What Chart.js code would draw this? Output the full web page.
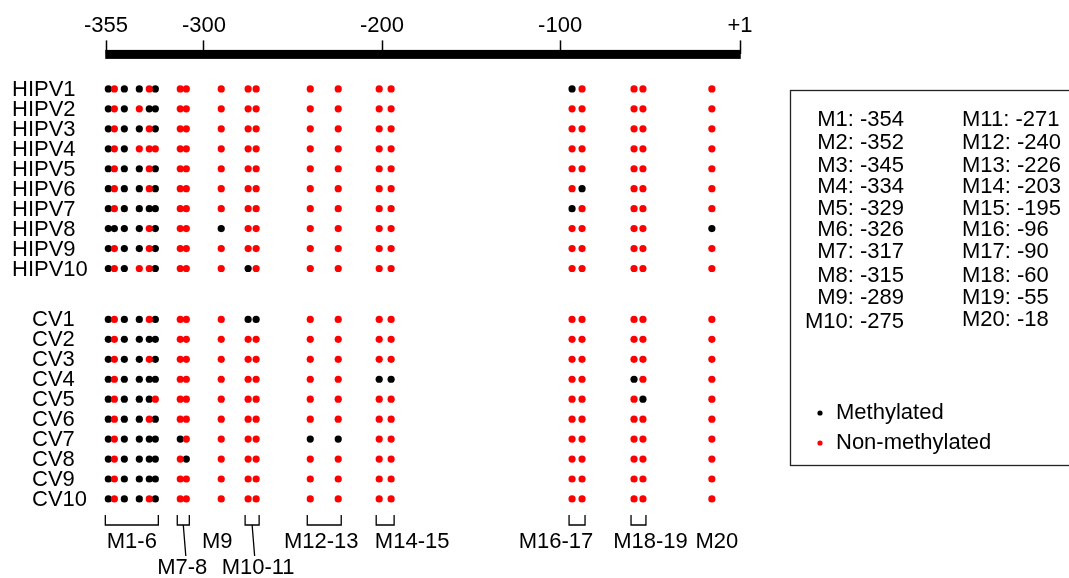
<!DOCTYPE html>
<html><head><meta charset="utf-8">
<script src="https://cdn.jsdelivr.net/npm/chart.js@4/dist/chart.umd.min.js"></script>
<style>html,body{margin:0;padding:0;background:#fff;overflow:hidden}#wrap{width:1069px;height:578px;position:relative}</style>
</head><body><div id="wrap"><canvas id="c" width="1069" height="578"></canvas></div>
<script>
// ---------- data ----------
const sites = ['M1','M2','M3','M4','M5','M6','M7','M8','M9','M10','M11','M12','M13','M14','M15','M16','M17','M18','M19','M20'];
const sitePos = [-354,-352,-345,-334,-329,-326,-317,-315,-289,-275,-271,-240,-226,-203,-195,-96,-90,-60,-55,-18];
// plotted (slightly spread) positions of each site
const dotX = [-353.7,-350.3,-344.7,-336.3,-330.7,-327.3,-313.3,-309.9,-290.3,-275.2,-270.7,-240.3,-224.6,-201.6,-194.9,-93.3,-87.7,-58.5,-53.5,-14.8];
const axisTicks = [-355,-300,-200,-100,1];
const axisTickLabels = ['-355','-300','-200','-100','+1'];
const hipvRows = ['HIPV1','HIPV2','HIPV3','HIPV4','HIPV5','HIPV6','HIPV7','HIPV8','HIPV9','HIPV10'];
const cvRows = ['CV1','CV2','CV3','CV4','CV5','CV6','CV7','CV8','CV9','CV10'];
// 1 = methylated, 0 = non-methylated, sites M1..M20
const hipvMeth = [
  '10110100000000010000',
  '10101100000000000000',
  '10110100000000000000',
  '10100000000000000000',
  '10110100000000000000',
  '10110100000000001000',
  '10111100000000010000',
  '11110100100000000001',
  '10110100000000000000',
  '10100100010000000000'
];
const cvMeth = [
  '10110100011000000000',
  '10111100000000000000',
  '10110100000000000000',
  '10111100000001100100',
  '10111000000000000010',
  '10110100000000000000',
  '10111110000110000000',
  '10111101000000000000',
  '10111100000000000000',
  '10110100000000000000'
];
const groups = [
  {label:'M1-6', from:0, to:5},
  {label:'M7-8', from:6, to:7},
  {label:'M9', from:8, to:8},
  {label:'M10-11', from:9, to:10},
  {label:'M12-13', from:11, to:12},
  {label:'M14-15', from:13, to:14},
  {label:'M16-17', from:15, to:16},
  {label:'M18-19', from:17, to:18},
  {label:'M20', from:19, to:19}
];
const seriesNames = ['Methylated','Non-methylated'];

// ---------- layout / style ----------
const FONT = '"Liberation Sans", Arial, Helvetica, sans-serif';
const FS = 22;
const groupGap = 11.55;                         // row index of CV1
const groupLabelStyle = {                       // dx (px) from bracket centre, line (1 or 2)
  'M1-6':{dx:0,line:1}, 'M7-8':{dx:-1,line:2}, 'M9':{dx:-4,line:1}, 'M10-11':{dx:6,line:2},
  'M12-13':{dx:-3,line:1}, 'M14-15':{dx:27,line:1}, 'M16-17':{dx:-21,line:1},
  'M18-19':{dx:12,line:1}, 'M20':{dx:5,line:1}
};
const legendRowY = [120,143,166,187,209,230,252,276,298,322];

const rows = [];
hipvRows.forEach((n,i)=>rows.push({name:n, y:i, meth:hipvMeth[i], lx:12}));
cvRows.forEach((n,i)=>rows.push({name:n, y:i+groupGap, meth:cvMeth[i], lx:32}));

const methPts = [], unPts = [];
rows.forEach(r=>{
  for (let k=0;k<sites.length;k++){
    const p = {x:dotX[k], y:r.y};
    (r.meth[k]==='1' ? methPts : unPts).push(p);
  }
});

const overlay = {
  id:'overlay',
  afterDraw(chart){
    const ctx = chart.ctx, xs = chart.scales.x, ys = chart.scales.y;
    ctx.save();
    // thick axis bar
    const xl = xs.getPixelForValue(axisTicks[0]), xr = xs.getPixelForValue(axisTicks[axisTicks.length-1]);
    ctx.fillStyle = '#000';
    ctx.fillRect(xl-0.75, xs.bottom-4.5, xr-xl+1.5, 9);
    // row labels
    ctx.font = FS+'px '+FONT;
    ctx.textBaseline = 'middle';
    ctx.textAlign = 'left';
    rows.forEach(r=>ctx.fillText(r.name, r.lx, ys.getPixelForValue(r.y)+1));
    // brackets + group labels
    ctx.strokeStyle = '#000'; ctx.lineWidth = 1.3;
    const bTop = 515, bBot = 525, l1 = 542, l2 = 568;
    groups.forEach(g=>{
      const a = xs.getPixelForValue(dotX[g.from]), b = xs.getPixelForValue(dotX[g.to]);
      const st = groupLabelStyle[g.label];
      let cx = (a+b)/2;
      if (g.to > g.from){
        ctx.beginPath();
        ctx.moveTo(a-3, bTop); ctx.lineTo(a-3, bBot); ctx.lineTo(b+3, bBot); ctx.lineTo(b+3, bTop);
        ctx.stroke();
        if (st.line===2){
          ctx.beginPath(); ctx.moveTo(cx, bBot); ctx.lineTo(cx+2.5, 556); ctx.stroke();
        }
      }
      ctx.textAlign = 'center';
      ctx.fillText(g.label, cx+st.dx, (st.line===1?l1:l2));
    });
    // legend box
    ctx.lineWidth = 1.3; ctx.strokeStyle = '#222';
    ctx.strokeRect(790.5, 90.5, 300, 375);
    ctx.fillStyle = '#000';
    for (let k=0;k<sites.length;k++){
      const txt = sites[k]+': '+sitePos[k];
      if (k<10){ ctx.textAlign='right'; ctx.fillText(txt, 904, legendRowY[k]); }
      else { ctx.textAlign='left'; ctx.fillText(txt, 962, legendRowY[k-10] - (k===19?2:0)); }
    }
    const cols = ['#000','#ff0000'];
    [413,443].forEach((yy,i)=>{
      ctx.fillStyle = cols[i];
      ctx.beginPath(); ctx.arc(820, yy, 2.6, 0, Math.PI*2); ctx.fill();
      ctx.fillStyle = '#000'; ctx.textAlign='left';
      ctx.fillText(seriesNames[i], 836, yy);
    });
    ctx.restore();
  }
};

new Chart(document.getElementById('c'), {
  type:'scatter',
  data:{datasets:[
    {label:seriesNames[1], data:unPts, backgroundColor:'#ff0000', borderWidth:0, pointRadius:3.6, pointHoverRadius:3.6, clip:false},
    {label:seriesNames[0], data:methPts, backgroundColor:'#000000', borderWidth:0, pointRadius:3.6, pointHoverRadius:3.6, clip:false}
  ]},
  options:{
    responsive:false, animation:false, devicePixelRatio:1,
    layout:{padding:{left:106, right:329, top:12, bottom:8}},
    plugins:{legend:{display:false}, tooltip:{enabled:false}},
    scales:{
      x:{type:'linear', position:'top', min:-355, max:1,
        afterBuildTicks:s=>{ s.ticks = axisTicks.map(v=>({value:v})); },
        ticks:{callback:v=>axisTickLabels[axisTicks.indexOf(v)], autoSkip:false, maxRotation:0,
          font:{family:FONT, size:FS}, color:'#000', padding:1},
        grid:{drawOnChartArea:false, drawTicks:true, tickLength:14, tickWidth:1.5, tickColor:'#000'},
        border:{display:false}
      },
      y:{type:'linear', display:false, reverse:true, min:-1.73, max:24.11}
    }
  },
  plugins:[overlay]
});
</script>
</body></html>
